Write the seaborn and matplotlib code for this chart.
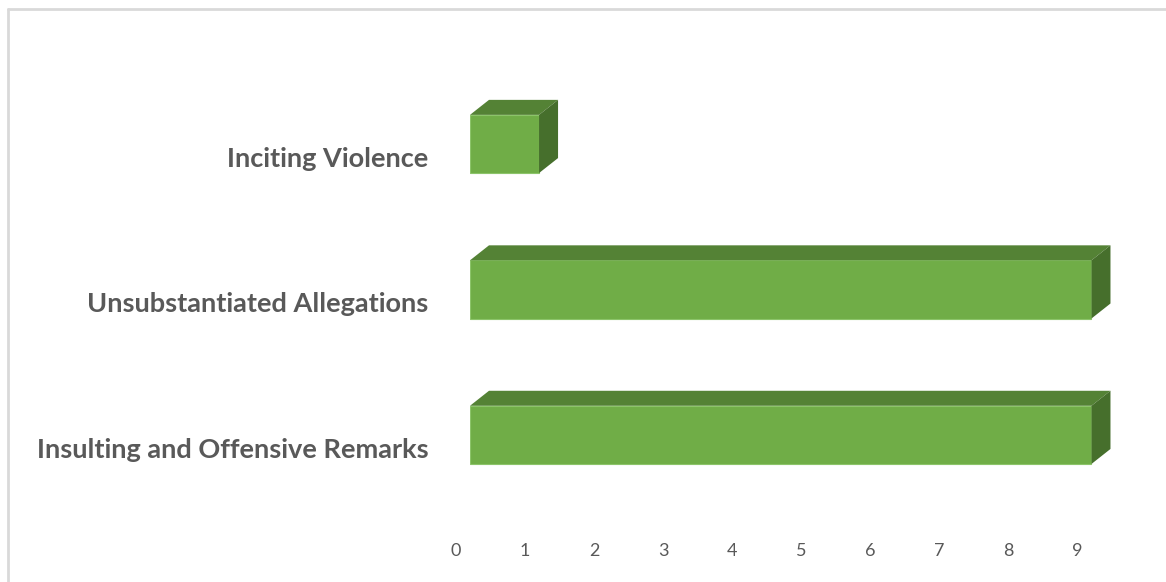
import matplotlib
matplotlib.use("Agg")
import matplotlib.pyplot as plt
import matplotlib.transforms as mtransforms
from matplotlib.patches import Polygon
import seaborn as sns
import pandas as pd

# chart data
categories = ["Inciting Violence", "Unsubstantiated Allegations", "Insulting and Offensive Remarks"]
counts = [1, 9, 9]
ticks = list(range(0, 10))

front_color = "#70ad47"
top_color = "#548235"
side_color = "#466f2c"
text_color = "#595959"

sns.set_theme(style="white")
plt.rcParams["font.family"] = ["Lato", "DejaVu Sans"]

df = pd.DataFrame({"category": categories, "count": counts})

fig = plt.figure(figsize=(11.66, 5.82), dpi=100)
ax = fig.add_axes([470 / 1166, 1 - 530 / 582, 656 / 1166, 480 / 582])

sns.barplot(data=df, x="count", y="category", orient="h", color=front_color,
            width=0.4, saturation=1, edgecolor="#8cc46a", linewidth=0.8, ax=ax)

ax.set_xlim(0, 9.5)
ax.set_ylim(2.654, -0.646)

# 3D depth, in display pixels converted to data units
px_x = 9.5 / 656
px_y = 3.30 / 480
dx, dy = 19 * px_x, 15 * px_y
for bar in ax.patches[:]:
    x0, y0 = bar.get_x(), bar.get_y()
    w, h = bar.get_width(), bar.get_height()
    top = Polygon([(x0, y0), (x0 + dx, y0 - dy), (x0 + w + dx, y0 - dy), (x0 + w, y0)],
                  closed=True, facecolor=top_color, edgecolor="none", zorder=bar.get_zorder())
    side = Polygon([(x0 + w, y0), (x0 + w + dx, y0 - dy), (x0 + w + dx, y0 + h - dy), (x0 + w, y0 + h)],
                   closed=True, facecolor=side_color, edgecolor="none", zorder=bar.get_zorder())
    ax.add_patch(top)
    ax.add_patch(side)

ax.set_xticks(ticks)
ax.set_xticklabels([str(t) for t in ticks], fontsize=13, color=text_color)
ax.set_xlabel("")
ax.set_ylabel("")
ax.tick_params(axis="x", length=0, pad=9)
ax.tick_params(axis="y", length=0, pad=30)
for lbl in ax.get_yticklabels():
    lbl.set_fontsize(19.5)
    lbl.set_fontweight("bold")
    lbl.set_color(text_color)

# Excel shifts labels relative to the 3D bars
x_off = mtransforms.ScaledTranslation(-14 / 100, 0, fig.dpi_scale_trans)
for lbl in ax.get_xticklabels():
    lbl.set_transform(lbl.get_transform() + x_off)
y_off = mtransforms.ScaledTranslation(0, -13 / 100, fig.dpi_scale_trans)
for lbl in ax.get_yticklabels():
    lbl.set_transform(lbl.get_transform() + y_off)

for s in ax.spines.values():
    s.set_visible(False)

# chart frame (top and left edges visible)
fig.add_artist(plt.Line2D([8 / 1166, 8 / 1166], [0, 1 - 9 / 582], color="#d9d9d9", linewidth=2))
fig.add_artist(plt.Line2D([8 / 1166, 1], [1 - 9 / 582, 1 - 9 / 582], color="#d9d9d9", linewidth=2))

fig.savefig("out.png", dpi=100)
